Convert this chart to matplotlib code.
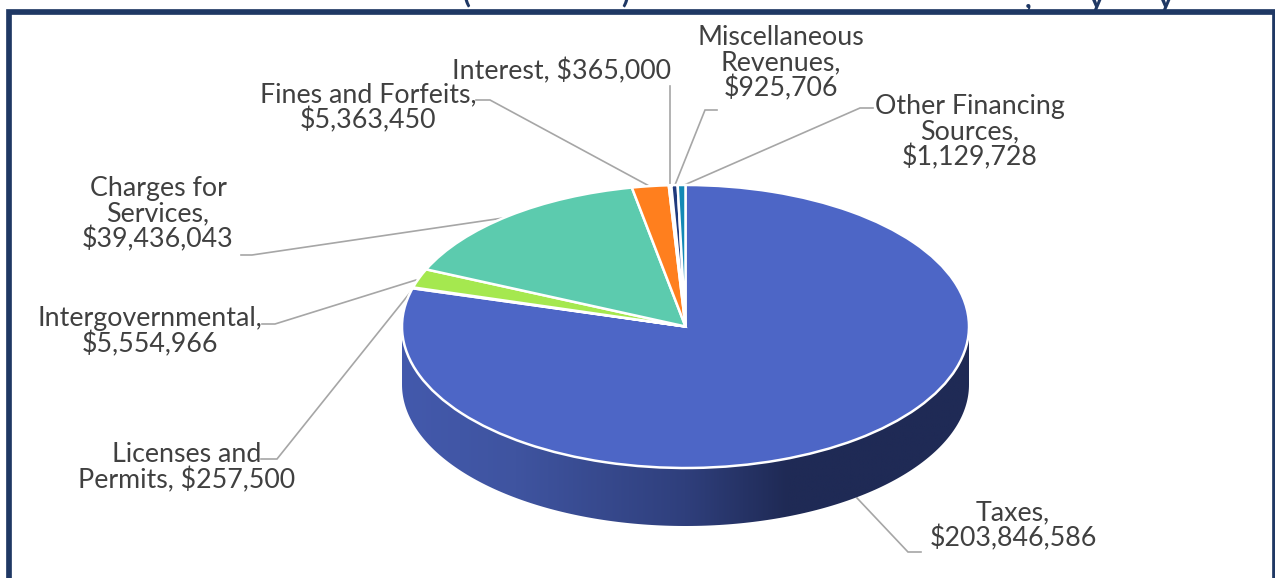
"""Revenue by source shown as a tilted pie with a shaded side wall."""
import numpy as np
import matplotlib
matplotlib.use('Agg')
import matplotlib.pyplot as plt
from matplotlib.colors import LinearSegmentedColormap
from matplotlib.patches import Polygon

plt.rcParams['font.family'] = ['Lato', 'DejaVu Sans']

WIDTH, HEIGHT = 1275, 578

# Clockwise from twelve o'clock
sources = ['Taxes', 'Licenses and Permits', 'Intergovernmental', 'Charges for Services',
           'Fines and Forfeits', 'Interest', 'Miscellaneous Revenues', 'Other Financing Sources']
amounts = [203846586, 257500, 5554966, 39436043, 5363450, 365000, 925706, 1129728]
slice_colors = ['#4D66C6', '#7F9BDD', '#A5E84F', '#5CCBAE', '#FF7F1E', '#E4EEF6', '#1F3A7D', '#1389B5']

# Where each source name is wrapped in its label
wrapped_names = ['Taxes,', 'Licenses and\nPermits,', 'Intergovernmental,', 'Charges for\nServices,',
                 'Fines and Forfeits,', 'Interest,', 'Miscellaneous\nRevenues,', 'Other Financing\nSources,']
# A comma-terminated name stays on the value's line for these sources
same_line = [False, True, False, False, False, True, False, False]
label_centers = [(1013, 526), (187, 468), (150, 332), (158, 214), (368, 108), (561, 71), (781, 63), (970, 132)]
leader_lines = [
    [(857, 498), (908, 552), (921, 552)],
    [(413, 289), (277, 459), (261, 459)],
    [(416, 280), (275, 324), (262, 324)],
    [(510, 217), (252, 255), (241, 255)],
    [(651, 187), (490, 100), (476, 100)],
    [(670, 185), (670, 86)],
    [(675, 185), (705, 110), (717, 110)],
    [(682, 186), (860, 108), (873, 108)],
]

# Bottoms of the heading characters just above the frame
heading_marks = [('(', 467), (')', 625), (',', 1028), ('y', 1097), ('y', 1166)]

NAVY = '#1F3864'
TEXT_COLOR = '#404040'
LEADER_COLOR = '#A6A6A6'

# Ellipse of the pie's top face and height of its wall, in pixels
PIE_X, PIE_Y, PIE_RX, PIE_RY, PIE_DEPTH = 685.5, 326.5, 283.5, 141.5, 58

fig = plt.figure(figsize=(WIDTH / 100, HEIGHT / 100), dpi=100, facecolor='white')

# Pixel-based layer for the frame, labels and leader lines
page = fig.add_axes([0, 0, 1, 1])
page.set_xlim(0, WIDTH)
page.set_ylim(HEIGHT, 0)
page.axis('off')

page.plot([9, 9, WIDTH, WIDTH], [HEIGHT, 11.7, 11.7, HEIGHT], color=NAVY, lw=4.1,
          solid_joinstyle='miter', clip_on=False)

for char, x in heading_marks:
    page.text(x, 8, char, color=NAVY, fontsize=21, fontweight='bold',
              ha='center', va='baseline' if char in ',y' else 'bottom')

for name, amount, joined, center, leader in zip(wrapped_names, amounts, same_line, label_centers, leader_lines):
    value = f'${amount:,}'
    label = f'{name} {value}' if joined else f'{name}\n{value}'
    page.text(center[0], center[1], label, color=TEXT_COLOR, fontsize=19.3,
              ha='center', va='center', linespacing=1.0)
    xs, ys = zip(*leader)
    page.plot(xs, ys, color=LEADER_COLOR, lw=1.2, solid_joinstyle='miter')

# Pie layer: one data unit is one radius, squeezed to the ellipse
pad = 1.05
depth = PIE_DEPTH / PIE_RY
left = PIE_X - pad * PIE_RX
right = PIE_X + pad * PIE_RX
top = PIE_Y - pad * PIE_RY
bottom = PIE_Y + (pad + depth) * PIE_RY
pie_ax = fig.add_axes([left / WIDTH, 1 - bottom / HEIGHT, (right - left) / WIDTH, (bottom - top) / HEIGHT])
pie_ax.patch.set_alpha(0)

# Side wall, shaded from mid blue to dark navy
theta = np.linspace(np.pi, 2 * np.pi, 200)
upper = np.column_stack([np.cos(theta), np.sin(theta)])
lower = upper[::-1] - [0, depth]
wall_cmap = LinearSegmentedColormap.from_list(
    'wall', [(0, '#4359AC'), (0.2, '#3F54A0'), (0.5, '#2F3F7C'), (0.68, '#1F2A55'), (1, '#1F2A55')])
shade = pie_ax.imshow(np.linspace(0, 1, 256).reshape(1, -1), cmap=wall_cmap, aspect='auto',
                      extent=(-1, 1, -1 - depth, 0), zorder=1)
outline = Polygon(np.vstack([upper, lower]), closed=True, facecolor='none', edgecolor='none',
                  transform=pie_ax.transData)
pie_ax.add_patch(outline)
shade.set_clip_path(outline)

pie_ax.pie(amounts, colors=slice_colors, startangle=90, counterclock=False, radius=1,
           wedgeprops={'edgecolor': 'white', 'linewidth': 1.8, 'zorder': 2})
pie_ax.set_aspect('auto')
pie_ax.set_xlim(-pad, pad)
pie_ax.set_ylim(-pad - depth, pad)
pie_ax.axis('off')

fig.savefig('out.png', dpi=100)
